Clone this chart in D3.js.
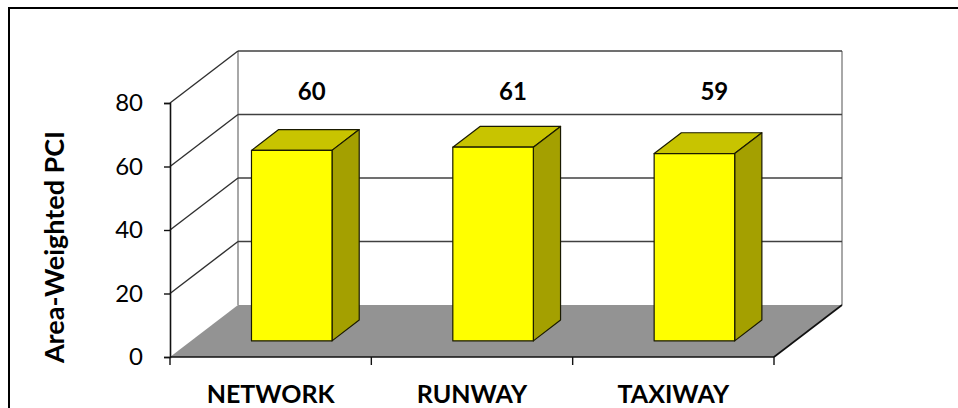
<!DOCTYPE html>
<html><head><meta charset="utf-8">
<script src="https://cdn.jsdelivr.net/npm/d3@7"></script>
<style>html,body{margin:0;padding:0;background:#fff;}svg{display:block;}</style>
</head><body>
<svg id="chart" width="958" height="408"></svg>
<script>
const categories = ["NETWORK", "RUNWAY", "TAXIWAY"];
const values = [60, 61, 59];
const yTicks = [0, 20, 40, 60, 80];
const yTitle = "Area-Weighted PCI";

const svg = d3.select("#chart");
const font = "Lato, 'Open Sans', sans-serif";

const x0 = 170, x1 = 774, yBottom = 357, yTop = 103;
const DX = 68, DY = -52; // depth of the 3D box
const x = d3.scaleBand().domain(categories).range([x0, x1]).paddingInner(0.6).paddingOuter(0.3);
const y = d3.scaleLinear().domain([0, 80]).range([yBottom, yTop]);

// outer border
svg.append("rect").attr("x", 9).attr("y", 8).attr("width", 980).attr("height", 440)
  .attr("fill", "none").attr("stroke", "#000").attr("stroke-width", 2);

// back wall
svg.append("rect").attr("x", x0 + DX).attr("y", y(80) + DY)
  .attr("width", x1 - x0).attr("height", y(0) - y(80)).attr("fill", "#fff");

// floor
svg.append("polygon")
  .attr("points", [[x0, y(0)], [x1, y(0)], [x1 + DX, y(0) + DY], [x0 + DX, y(0) + DY]].map(p => p.join(",")).join(" "))
  .attr("fill", "#939393");

// back wall side edges
[x0 + DX, x1 + DX].forEach(xx => {
  svg.append("line").attr("x1", xx).attr("x2", xx).attr("y1", y(80) + DY).attr("y2", y(0) + DY)
    .attr("stroke", "#a8a8a8").attr("stroke-width", 2);
});

// gridlines (back wall + left wall)
yTicks.filter(v => v > 0).forEach(v => {
  svg.append("line").attr("x1", x0 + DX).attr("x2", x1 + DX).attr("y1", y(v) + DY).attr("y2", y(v) + DY)
    .attr("stroke", "#404040").attr("stroke-width", 1.6);
  svg.append("line").attr("x1", x0).attr("x2", x0 + DX).attr("y1", y(v)).attr("y2", y(v) + DY)
    .attr("stroke", "#303030").attr("stroke-width", 1.4);
});

// floor edges
svg.append("line").attr("x1", x1).attr("y1", y(0)).attr("x2", x1 + DX).attr("y2", y(0) + DY)
  .attr("stroke", "#111").attr("stroke-width", 1.6);

// bars
const f0 = 0.31, f1 = 0.71; // front / back depth fraction of bars
values.forEach((v, i) => {
  const c = categories[i];
  const bx = x(c) + f0 * DX, bw = x.bandwidth();
  const by0 = y(0) + f0 * DY, by1 = y(v) + f0 * DY;
  const ddx = (f1 - f0) * DX, ddy = (f1 - f0) * DY;
  const g = svg.append("g").attr("stroke", "#1a1a00").attr("stroke-width", 1.2).attr("stroke-linejoin", "round");
  const pts = a => a.map(p => p.join(",")).join(" ");
  g.append("polygon").attr("points", pts([[bx, by1], [bx + bw, by1], [bx + bw + ddx, by1 + ddy], [bx + ddx, by1 + ddy]]))
    .attr("fill", "#c8c400");
  g.append("polygon").attr("points", pts([[bx + bw, by1], [bx + bw + ddx, by1 + ddy], [bx + bw + ddx, by0 + ddy], [bx + bw, by0]]))
    .attr("fill", "#a4a000");
  g.append("rect").attr("x", bx).attr("y", by1).attr("width", bw).attr("height", by0 - by1)
    .attr("fill", "#ffff00");
  // value label
  svg.append("text").attr("x", x(c) + x.bandwidth() / 2 + 41).attr("y", 100)
    .attr("text-anchor", "middle").attr("font-family", font).attr("font-weight", "bold")
    .attr("font-size", 24).attr("fill", "#000").text(v);
});

// front x axis line
svg.append("line").attr("x1", x0).attr("x2", x1).attr("y1", y(0)).attr("y2", y(0))
  .attr("stroke", "#111").attr("stroke-width", 1.6);
// category ticks
const boundaries = categories.map(c => x(c) - x.step() * x.paddingInner() / 2).concat([x1]);
boundaries[0] = x0;
boundaries.forEach(b => {
  svg.append("line").attr("x1", b).attr("x2", b).attr("y1", y(0)).attr("y2", y(0) + 8)
    .attr("stroke", "#111").attr("stroke-width", 1.4);
});
categories.forEach(c => {
  svg.append("text").attr("x", x(c) + x.bandwidth() / 2).attr("y", 403)
    .attr("text-anchor", "middle").attr("font-family", font).attr("font-weight", "bold")
    .attr("font-size", 25).attr("fill", "#000").text(c);
});

// y axis
const yAxis = d3.axisLeft(y).tickValues(yTicks).tickSize(6).tickPadding(21);
const ya = svg.append("g").attr("transform", `translate(${x0},0)`).call(yAxis);
ya.select(".domain").attr("stroke", "#111").attr("stroke-width", 1.6);
ya.selectAll(".tick line").attr("stroke", "#111").attr("stroke-width", 1.4);
ya.selectAll(".tick text").attr("font-family", font).attr("font-size", 24).attr("fill", "#000");

// y title
svg.append("text").attr("transform", "translate(64,247) rotate(-90)")
  .attr("text-anchor", "middle").attr("font-family", font).attr("font-weight", "bold")
  .attr("font-size", 27).attr("fill", "#000").text(yTitle);
</script>
</body></html>
